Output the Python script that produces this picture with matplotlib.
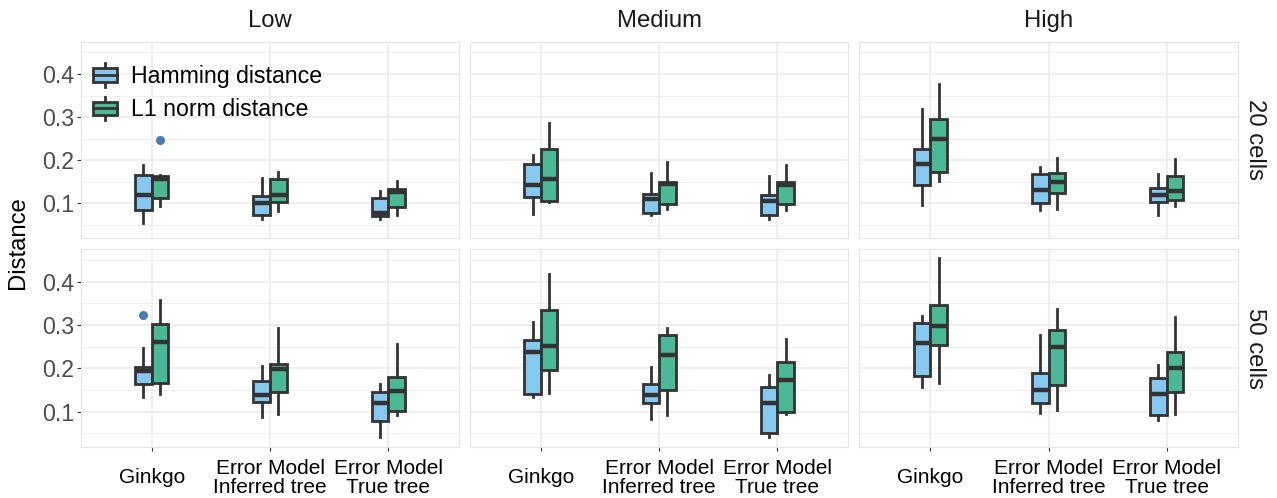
import matplotlib
matplotlib.use("Agg")
import matplotlib.pyplot as plt
from matplotlib.legend_handler import HandlerBase
from matplotlib.patches import Rectangle
from matplotlib.lines import Line2D
import numpy as np

plt.rcParams['font.family'] = ['Liberation Sans', 'DejaVu Sans']

categories = ["Ginkgo", "Error Model\nInferred tree", "Error Model\nTrue tree"]
levels = ["Low", "Medium", "High"]
cells = ["20 cells", "50 cells"]
series = ["Hamming distance", "L1 norm distance"]

# five-number summaries per category: [whisker low, Q1, median, Q3, whisker high]
low20_hamming = [[0.055, 0.083, 0.119, 0.165, 0.188], [0.063, 0.073, 0.101, 0.117, 0.159], [0.064, 0.071, 0.078, 0.113, 0.129]]
low20_l1 = [[0.094, 0.112, 0.155, 0.163, 0.165], [0.081, 0.102, 0.118, 0.156, 0.173], [0.073, 0.091, 0.125, 0.132, 0.152]]
med20_hamming = [[0.075, 0.115, 0.142, 0.192, 0.211], [0.073, 0.077, 0.109, 0.121, 0.169], [0.064, 0.073, 0.104, 0.118, 0.164]]
med20_l1 = [[0.103, 0.104, 0.156, 0.225, 0.286], [0.086, 0.098, 0.145, 0.150, 0.195], [0.085, 0.098, 0.142, 0.148, 0.188]]
high20_hamming = [[0.096, 0.141, 0.192, 0.225, 0.319], [0.085, 0.101, 0.131, 0.167, 0.183], [0.073, 0.102, 0.119, 0.135, 0.168]]
high20_l1 = [[0.152, 0.173, 0.248, 0.296, 0.377], [0.086, 0.123, 0.150, 0.169, 0.204], [0.094, 0.108, 0.129, 0.163, 0.202]]
low50_hamming = [[0.133, 0.164, 0.194, 0.203, 0.247], [0.087, 0.123, 0.139, 0.170, 0.206], [0.042, 0.078, 0.119, 0.145, 0.164]]
low50_l1 = [[0.140, 0.167, 0.260, 0.303, 0.357], [0.095, 0.146, 0.199, 0.210, 0.293], [0.092, 0.102, 0.148, 0.181, 0.257]]
med50_hamming = [[0.133, 0.141, 0.238, 0.265, 0.306], [0.082, 0.121, 0.139, 0.164, 0.204], [0.042, 0.050, 0.119, 0.156, 0.185]]
med50_l1 = [[0.143, 0.197, 0.252, 0.334, 0.417], [0.092, 0.149, 0.231, 0.278, 0.293], [0.095, 0.100, 0.172, 0.215, 0.268]]
high50_hamming = [[0.157, 0.183, 0.259, 0.305, 0.322], [0.098, 0.119, 0.150, 0.189, 0.276], [0.081, 0.092, 0.141, 0.177, 0.208]]
high50_l1 = [[0.167, 0.255, 0.297, 0.346, 0.456], [0.104, 0.162, 0.249, 0.289, 0.337], [0.094, 0.145, 0.201, 0.238, 0.319]]

# outliers: (level, cells, series index, category index, value)
outliers = [("Low", "20 cells", 1, 0, 0.246), ("Low", "50 cells", 0, 0, 0.324)]

panel_data = {
    ("Low", "20 cells"): (low20_hamming, low20_l1),
    ("Medium", "20 cells"): (med20_hamming, med20_l1),
    ("High", "20 cells"): (high20_hamming, high20_l1),
    ("Low", "50 cells"): (low50_hamming, low50_l1),
    ("Medium", "50 cells"): (med50_hamming, med50_l1),
    ("High", "50 cells"): (high50_hamming, high50_l1),
}

colors = ["#85C8F0", "#4BB995"]
edge = "#333333"
outlier_color = "#4A7DB5"
grid_c = "#EBEBEB"

W, H = 1277, 498
fig = plt.figure(figsize=(W / 100, H / 100), dpi=100)

col_x = [(80.7, 459.3), (470.0, 848.3), (859.3, 1237.7)]
row_y = [(41.7, 238.0), (249.3, 446.7)]

offsets = [-0.07, 0.07]
bw = 0.14

axes = {}
for r, cl in enumerate(cells):
    for c, lv in enumerate(levels):
        x0, x1 = col_x[c]
        y0, y1 = row_y[r]
        ax = fig.add_axes([x0 / W, 1 - y1 / H, (x1 - x0) / W, (y1 - y0) / H])
        axes[(lv, cl)] = ax
        ax.set_xlim(0.4, 3.6)
        ax.set_ylim(0.019, 0.475)
        ax.set_yticks([0.1, 0.2, 0.3, 0.4])
        ax.set_yticks([0.05, 0.15, 0.25, 0.35, 0.45], minor=True)
        ax.set_xticks([1, 2, 3])
        ax.grid(True, which='major', color=grid_c, lw=1.1, zorder=0)
        ax.grid(True, which='minor', axis='y', color=grid_c, lw=0.6, zorder=0)
        ax.set_axisbelow(True)
        for sp in ax.spines.values():
            sp.set_color("#E5E5E5")
            sp.set_linewidth(0.8)
        ax.tick_params(which='minor', length=0)
        ax.tick_params(axis='both', which='major', color="#333333", width=0.8, length=3,
                       labelcolor="#4D4D4D")
        if c == 0:
            ax.set_yticklabels(["0.1", "0.2", "0.3", "0.4"], fontsize=16.7)
            ax.tick_params(axis='y', pad=2)
        else:
            ax.tick_params(axis='y', length=0, labelleft=False)
        if r == 1:
            ax.set_xticklabels(categories, fontsize=15, color="black", linespacing=1.0)
            ax.tick_params(axis='x', pad=19.5)
            for t in ax.get_xticklabels():
                t.set_va('center')
        else:
            ax.tick_params(axis='x', length=0, labelbottom=False)

        for s in range(2):
            summ = panel_data[(lv, cl)][s]
            stats = [dict(whislo=v[0], q1=v[1], med=v[2], q3=v[3], whishi=v[4], fliers=[])
                     for v in summ]
            pos = [i + 1 + offsets[s] for i in range(3)]
            ax.bxp(stats, positions=pos, widths=bw, patch_artist=True, showcaps=False,
                   showfliers=False, manage_ticks=False,
                   boxprops=dict(facecolor=colors[s], edgecolor=edge, linewidth=2.0),
                   medianprops=dict(color=edge, linewidth=3.2, solid_capstyle='butt'),
                   whiskerprops=dict(color=edge, linewidth=2.0), zorder=3)

for lv, cl, s, ci, val in outliers:
    axes[(lv, cl)].plot([ci + 1 + offsets[s]], [val], 'o', color=outlier_color,
                        markersize=5.5, zorder=4)

# column strips
for c, lv in enumerate(levels):
    x0, x1 = col_x[c]
    fig.text((x0 + x1) / 2 / W, 1 - 21 / H, lv, ha='center', va='center', fontsize=17.2,
             color="#1A1A1A")
# row strips
for r, cl in enumerate(cells):
    y0, y1 = row_y[r]
    fig.text(1255 / W, 1 - (y0 + y1) / 2 / H, cl, ha='center', va='center', rotation=-90,
             fontsize=17.2, color="#1A1A1A")

fig.text(18 / W, 1 - 243 / H, "Distance", ha='center', va='center', rotation=90,
         fontsize=17.2, color="black")


class BoxHandler(HandlerBase):
    def create_artists(self, legend, orig_handle, xdescent, ydescent, width, height,
                       fontsize, trans):
        fc = orig_handle.get_facecolor()
        x0 = -xdescent
        y0 = -ydescent
        cx = x0 + width / 2
        bb = y0 + height * 0.22
        bt = y0 + height * 0.78
        rect = Rectangle((x0, bb), width, bt - bb, facecolor=fc, edgecolor=edge,
                         linewidth=2.0, transform=trans)
        med = Line2D([x0, x0 + width], [(bb + bt) / 2] * 2, color=edge, lw=2.0,
                     transform=trans)
        w1 = Line2D([cx, cx], [bt, y0 + height], color=edge, lw=2.0, transform=trans)
        w2 = Line2D([cx, cx], [y0, bb], color=edge, lw=2.0, transform=trans)
        return [w1, w2, rect, med]


handles = [Rectangle((0, 0), 1, 1, facecolor=colors[i]) for i in range(2)]
fig.legend(handles, series, loc='upper left', bbox_to_anchor=(93 / W, 1 - 63 / H),
           bbox_transform=fig.transFigure, frameon=False, fontsize=16.7,
           handler_map={Rectangle: BoxHandler()}, handlelength=1.05, handleheight=1.2,
           handletextpad=0.6, labelspacing=0.38, borderpad=0, borderaxespad=0)

fig.savefig("out.png", dpi=100)
